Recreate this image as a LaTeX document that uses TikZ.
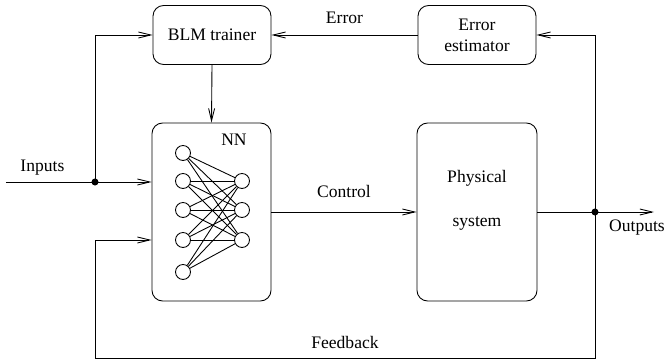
\documentclass[tikz,border=0pt]{standalone}
\usepackage{fontspec}
\setmainfont{Liberation Serif}
\usetikzlibrary{arrows.meta}
\begin{document}
\begin{tikzpicture}[x=0.02cm,y=-0.02cm,line width=0.5pt,
    >={Straight Barb[length=7pt,width=3.4pt]},
    block/.style={draw,rounded corners=6pt,align=center,inner sep=0pt},
    neuron/.style={draw,circle,minimum size=0.3cm,inner sep=0pt}]
            \useasboundingbox (0,0) rectangle (664,364);
            \node [block,minimum width=2.36cm,minimum height=1.18cm] (blm) at (212,35) {BLM trainer};
            \node [block,minimum width=2.36cm,minimum height=1.18cm] (est) at (477,35) {Error\\estimator};
            \node [block,minimum width=2.38cm,minimum height=3.56cm] (nn) at (211.5,212) {};
            \node [block,minimum width=2.4cm,minimum height=3.56cm] (plant) at (477,212) {};
            \node at (234,140) {NN};
            \node [align=center] at (477,200) {Physical\\[13pt]system};
            \foreach \y [count=\i] in {153,181,210,240,272}
                \node [neuron] (i\i) at (183,\y) {};
            \foreach \y [count=\j] in {181,210,240}
                \node [neuron] (h\j) at (242,\y) {};
            \foreach \i in {1,...,5}
                \foreach \j in {1,2,3}
                    \draw (i\i) -- (h\j);
            \coordinate (in) at (6,182);
            \coordinate (out) at (654,212);
            \fill (95,182) coordinate (a) circle(2pt);
            \fill (595,212) coordinate (b) circle(2pt);
            \draw [->] (in) -- (nn.west |- in) node [pos=0.25,above=0pt] {Inputs};
            \draw [->] (a) |- (blm.west);
            \draw [->] (blm.south) -- (nn.north);
            \draw [->] (nn.east |- out) -- (plant.west |- out) node [midway,above=4.5pt] {Control};
            \draw [->] (plant.east |- out) -- (out);
            \draw [->] (b) |- (est.east);
            \draw [->] (est.west) -- (blm.east) node [midway,above=3pt] {Error};
            \draw [->] (b) |- (95,358) node [pos=0.75,above=2pt] {Feedback} -- (95,240) -- (nn.west |- 0,240);
            \node at (637,228) {Outputs};
        \end{tikzpicture}
\end{document}
